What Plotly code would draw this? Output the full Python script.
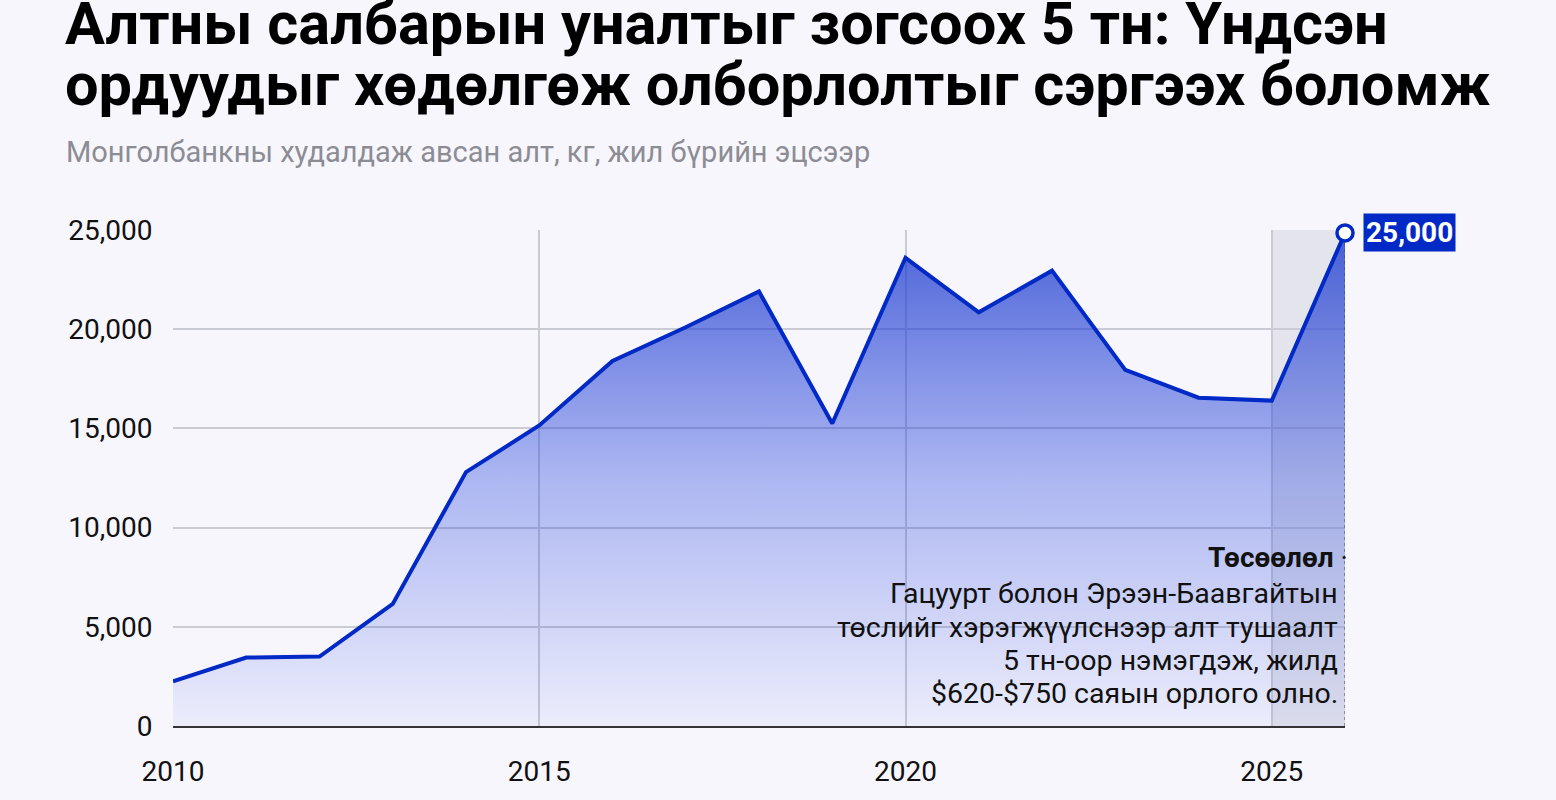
import plotly.graph_objects as go

years = [2010, 2011, 2012, 2013, 2014, 2015, 2016, 2017, 2018, 2019, 2020, 2021, 2022, 2023, 2024, 2025, 2026]
gold_kg = [2250, 3450, 3500, 6150, 12800, 15150, 18400, 20100, 21900, 15250, 23600, 20850, 22950, 17950, 16550, 16400, 24850]
last_label = "25,000"
x_ticks = [2010, 2015, 2020, 2025]
y_ticks = [0, 5000, 10000, 15000, 20000, 25000]
y_tick_text = ["0", "5,000", "10,000", "15,000", "20,000", "25,000"]

title_lines = ["Алтны салбарын уналтыг зогсоох 5 тн: Үндсэн",
               "ордуудыг хөдөлгөж олборлолтыг сэргээх боломж"]
subtitle_text = "Монголбанкны худалдаж авсан алт, кг, жил бүрийн эцсээр"
note_title = "Төсөөлөл"
note_lines = ["Гацуурт болон Эрээн-Баавгайтын", "төслийг хэрэгжүүлснээр алт тушаалт",
              "5 тн-оор нэмэгдэж, жилд", "$620-$750 саяын орлого олно."]
note_line_y = [6700, 4950, 3300, 1650]

BG = "#f7f6fd"
BLUE = "#0029c6"
FONT = "Roboto"

# pixel helpers for paper coords (plot area: top 230, height 500, left 173, width 1172)
def py(ypix):
    return 1 + (230 - ypix) / 500

def px(xpix):
    return (xpix - 173) / 1172

fig = go.Figure()

fig.add_trace(go.Scatter(
    x=years, y=gold_kg, mode="lines",
    line=dict(color=BLUE, width=4),
    fill="tozeroy",
    fillgradient=dict(type="vertical", start=0, stop=25000,
                      colorscale=[[0, "rgba(40,70,220,0.05)"], [0.5, "rgba(40,70,220,0.36)"], [1, "rgba(30,60,205,0.8)"]]),
    hoverinfo="skip", cliponaxis=False,
))

fig.add_trace(go.Scatter(
    x=[years[-1], years[-1]], y=[0, gold_kg[-1]], mode="lines",
    line=dict(color="#444444", width=1, dash="dot"), hoverinfo="skip", cliponaxis=False,
))

fig.add_trace(go.Scatter(
    x=[years[-1]], y=[gold_kg[-1]], mode="markers",
    marker=dict(size=16, color="white", line=dict(color=BLUE, width=3.5)),
    hoverinfo="skip", cliponaxis=False,
))

fig.add_shape(type="rect", xref="x", yref="y", x0=2025, x1=2026, y0=0, y1=25000,
              fillcolor="#e4e4ec", line=dict(width=0), layer="below")

fig.add_annotation(x=years[-1], y=gold_kg[-1], xref="x", yref="y",
                   text=f"<b>{last_label}</b>", showarrow=False,
                   xanchor="left", yanchor="middle", xshift=18,
                   font=dict(family=FONT, size=28, color="white"),
                   bgcolor=BLUE, borderpad=2)

fig.add_annotation(x=years[-1], y=8500, xref="x", yref="y",
                   text=f"<b>{note_title}</b> ·", showarrow=False,
                   xanchor="right", yanchor="middle", xshift=5,
                   font=dict(family=FONT, size=28, color="#111111"))
for line, yv in zip(note_lines, note_line_y):
    fig.add_annotation(x=years[-1], y=yv, xref="x", yref="y",
                       text=line, showarrow=False,
                       xanchor="right", yanchor="middle", xshift=-5,
                       font=dict(family=FONT, size=28.5, color="#111111"))

for line, ypix in zip(title_lines, [22, 84]):
    fig.add_annotation(xref="paper", yref="paper", x=px(63), y=py(ypix),
                       text=f"<b>{line}</b>", showarrow=False, xanchor="left", yanchor="middle",
                       font=dict(family=FONT, size=59.5, color="#000000"))

fig.add_annotation(xref="paper", yref="paper", x=px(64), y=py(151),
                   text=subtitle_text, showarrow=False, xanchor="left", yanchor="middle",
                   font=dict(family=FONT, size=29, color="#8c8c94"))

fig.update_layout(
    width=1556, height=800,
    paper_bgcolor=BG, plot_bgcolor=BG,
    margin=dict(l=173, r=211, t=230, b=70),
    showlegend=False,
    font=dict(family=FONT, size=28, color="#111111"),
)

fig.update_xaxes(range=[2010, 2026], tickvals=x_ticks, showgrid=True, gridcolor="#cbcbd3",
                 gridwidth=1.5, zeroline=False, showline=True, linecolor="#333333", linewidth=1.5,
                 ticks="outside", ticklen=20, tickcolor="rgba(0,0,0,0)",
                 tickfont=dict(family=FONT, size=28, color="#111111"))
fig.update_yaxes(range=[0, 25000], tickvals=y_ticks, ticktext=y_tick_text, showgrid=True,
                 gridcolor="#cbcbd3", gridwidth=1.5, zeroline=False, showline=False,
                 ticks="outside", ticklen=14, tickcolor="rgba(0,0,0,0)",
                 tickfont=dict(family=FONT, size=28, color="#111111"))

fig.write_html("out.html")
